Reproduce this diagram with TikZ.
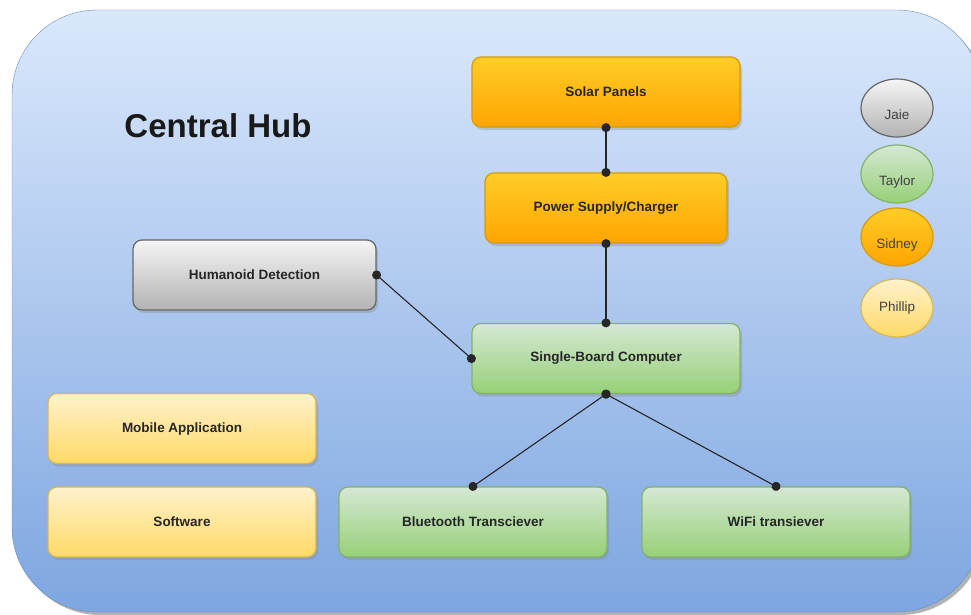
\documentclass[tikz,border=0pt]{standalone}
\usepackage{fontspec}
\setmainfont{Liberation Sans}
\usetikzlibrary{shapes.geometric,arrows.meta,shadows}

\definecolor{hubtop}{HTML}{DAE8FC}
\definecolor{hubbot}{HTML}{7EA6E0}
\definecolor{hubline}{HTML}{6C8EBF}
\definecolor{orangetop}{HTML}{FFCD28}
\definecolor{orangebot}{HTML}{FFA500}
\definecolor{orangeline}{HTML}{D79B00}
\definecolor{greentop}{HTML}{D5E8D4}
\definecolor{greenbot}{HTML}{97D077}
\definecolor{greenline}{HTML}{82B366}
\definecolor{graytop}{HTML}{F5F5F5}
\definecolor{graybot}{HTML}{B3B3B3}
\definecolor{grayline}{HTML}{666666}
\definecolor{yellowtop}{HTML}{FFF2CC}
\definecolor{yellowbot}{HTML}{FFD966}
\definecolor{yellowline}{HTML}{D6B656}

\tikzset{
  block/.style={rectangle, rounded corners=9pt, minimum width=268pt, minimum height=70pt,
    line width=1.2pt, text=black!85, font=\fontsize{13.5}{16}\selectfont\bfseries,
    drop shadow={shadow xshift=2pt, shadow yshift=-3pt, opacity=0.3}},
  orangeblock/.style={block, draw=orangeline, top color=orangetop, bottom color=orangebot},
  greenblock/.style={block, draw=greenline, top color=greentop, bottom color=greenbot},
  grayblock/.style={block, draw=grayline, top color=graytop, bottom color=graybot},
  yellowblock/.style={block, draw=yellowline, top color=yellowtop, bottom color=yellowbot},
  person/.style={ellipse, minimum width=72pt, minimum height=58pt, inner sep=0pt,
    line width=1.2pt, text=black!75, font=\fontsize{13.5}{16}\selectfont},
  lowered/.style={text height=25pt, text depth=3pt},
  link/.style={draw=black!85, line width=1.1pt, {Circle[length=9pt]}-{Circle[length=9pt]},
    shorten <=-4.5pt, shorten >=-4.5pt}
}

\begin{document}
\begin{tikzpicture}[x=1pt, y=-1pt]

    \useasboundingbox (0,0) rectangle (971,614);
    \fill[black!30, rounded corners=85pt] (15,13) rectangle (985,615);
    \draw[hubline, top color=hubtop, bottom color=hubbot, rounded corners=85pt] (12,10) rectangle (982,612);

    \node[font=\fontsize{33}{38}\selectfont\bfseries, text=black!90] (hub) at (218,126) {Central Hub};

    \node[orangeblock] (solar) at (606,92) {Solar Panels};
    \node[orangeblock, minimum width=242pt] (power) at (606,208) {Power Supply/Charger};
    \node[grayblock, minimum width=243pt] (humanoid) at (254.5,275) {Humanoid Detection};
    \node[greenblock] (sbc) at (606,358.5) {Single-Board Computer};
    \node[yellowblock] (mobile) at (182,428.5) {Mobile Application};
    \node[yellowblock] (software) at (182,522) {Software};
    \node[greenblock] (bluetooth) at (473,522) {Bluetooth Transciever};
    \node[greenblock] (wifi) at (776,522) {WiFi transiever};

    \node[person, lowered, draw=grayline, top color=graytop, bottom color=graybot] (jaie) at (897,108) {Jaie};
    \node[person, lowered, draw=greenline, top color=greentop, bottom color=greenbot] (taylor) at (897,174) {Taylor};
    \node[person, lowered, draw=orangeline, top color=orangetop, bottom color=orangebot] (sidney) at (897,237) {Sidney};
    \node[person, draw=yellowline, top color=yellowtop, bottom color=yellowbot] (phillip) at (897,308) {Phillip};

    \draw[link] (solar.south) -- (power.north);
    \draw[link] (power.south) -- (sbc.north);
    \draw[link] (humanoid.east) -- (sbc.west);
    \draw[link] (sbc.south) -- (bluetooth.north);
    \draw[link] (sbc.south) -- (wifi.north);

\end{tikzpicture}
\end{document}
